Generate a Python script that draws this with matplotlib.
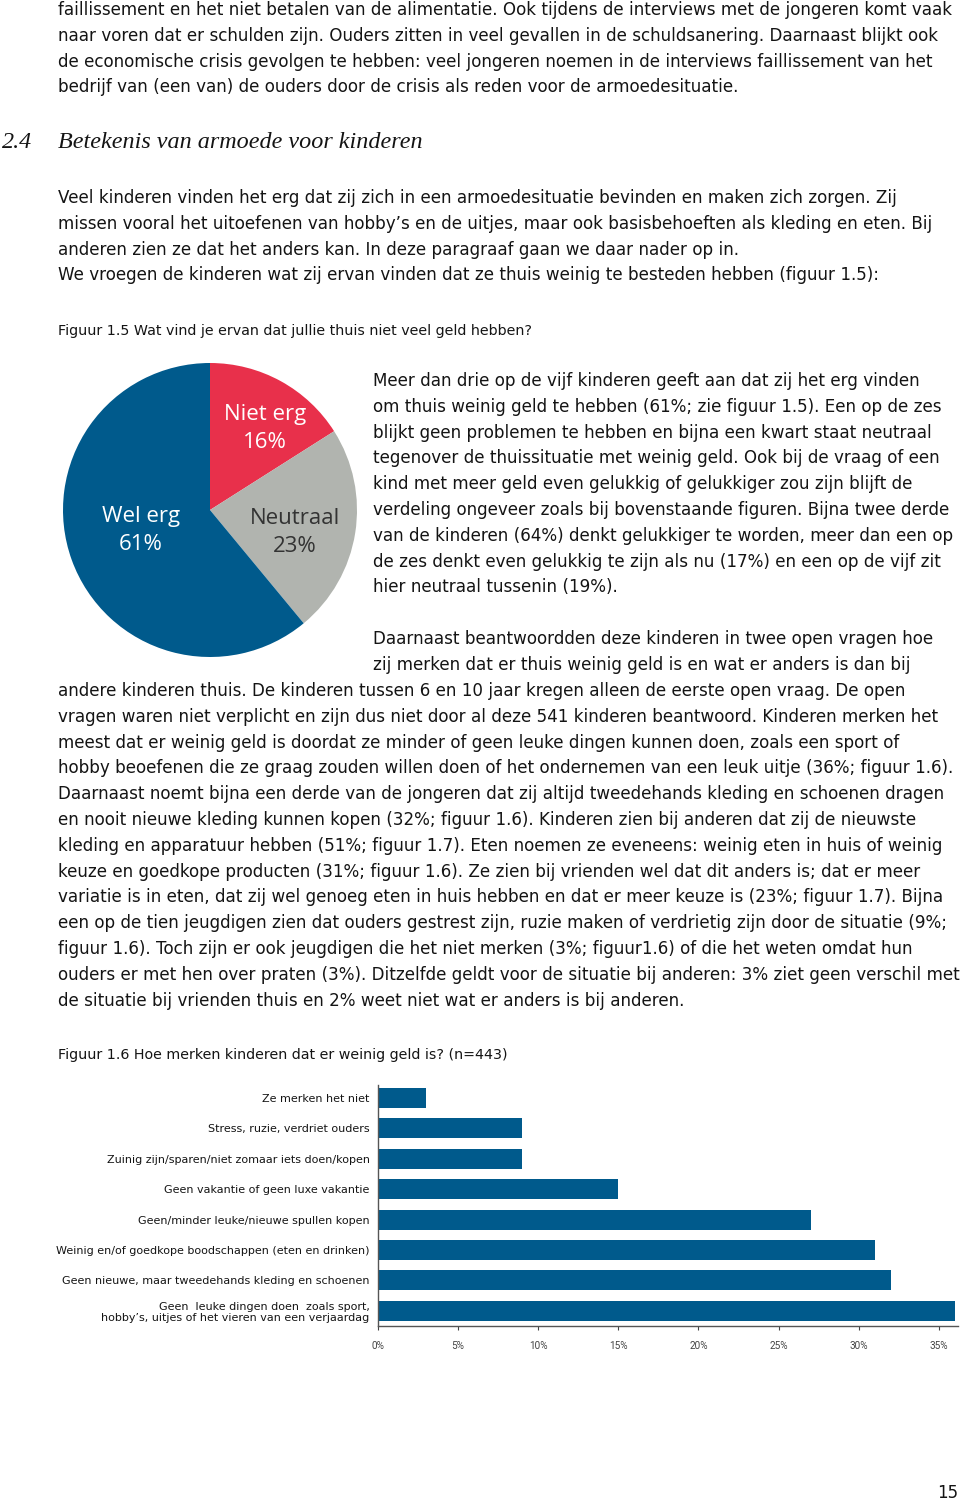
import matplotlib
matplotlib.use("Agg")
import matplotlib.pyplot as plt
import numpy as np

# --- data -------------------------------------------------------------
pie_labels = ["Niet erg", "Neutraal", "Wel erg"]
pie_values = [16, 23, 61]

bar_categories = [
    "Ze merken het niet",
    "Stress, ruzie, verdriet ouders",
    "Zuinig zijn/sparen/niet zomaar iets doen/kopen",
    "Geen vakantie of geen luxe vakantie",
    "Geen/minder leuke/nieuwe spullen kopen",
    "Weinig en/of goedkope boodschappen (eten en drinken)",
    "Geen nieuwe, maar tweedehands kleding en schoenen",
    "Geen  leuke dingen doen  zoals sport,\nhobby\u2019s, uitjes of het vieren van een verjaardag",
]
bar_values = [3, 9, 9, 15, 27, 31, 32, 36]
x_ticks = [0, 5, 10, 15, 20, 25, 30, 35]

intro_lines = [
    "faillissement en het niet betalen van de alimentatie. Ook tijdens de interviews met de jongeren komt vaak",
    "naar voren dat er schulden zijn. Ouders zitten in veel gevallen in de schuldsanering. Daarnaast blijkt ook",
    "de economische crisis gevolgen te hebben: veel jongeren noemen in de interviews faillissement van het",
    "bedrijf van (een van) de ouders door de crisis als reden voor de armoedesituatie.",
]
para_lines = [
    "Veel kinderen vinden het erg dat zij zich in een armoedesituatie bevinden en maken zich zorgen. Zij",
    "missen vooral het uitoefenen van hobby\u2019s en de uitjes, maar ook basisbehoeften als kleding en eten. Bij",
    "anderen zien ze dat het anders kan. In deze paragraaf gaan we daar nader op in.",
    "We vroegen de kinderen wat zij ervan vinden dat ze thuis weinig te besteden hebben (figuur 1.5):",
]
side_lines = [
    "Meer dan drie op de vijf kinderen geeft aan dat zij het erg vinden",
    "om thuis weinig geld te hebben (61%; zie figuur 1.5). Een op de zes",
    "blijkt geen problemen te hebben en bijna een kwart staat neutraal",
    "tegenover de thuissituatie met weinig geld. Ook bij de vraag of een",
    "kind met meer geld even gelukkig of gelukkiger zou zijn blijft de",
    "verdeling ongeveer zoals bij bovenstaande figuren. Bijna twee derde",
    "van de kinderen (64%) denkt gelukkiger te worden, meer dan een op",
    "de zes denkt even gelukkig te zijn als nu (17%) en een op de vijf zit",
    "hier neutraal tussenin (19%).",
]
open_lines_indented = [
    "Daarnaast beantwoordden deze kinderen in twee open vragen hoe",
    "zij merken dat er thuis weinig geld is en wat er anders is dan bij",
]
open_lines = [
    "andere kinderen thuis. De kinderen tussen 6 en 10 jaar kregen alleen de eerste open vraag. De open",
    "vragen waren niet verplicht en zijn dus niet door al deze 541 kinderen beantwoord. Kinderen merken het",
    "meest dat er weinig geld is doordat ze minder of geen leuke dingen kunnen doen, zoals een sport of",
    "hobby beoefenen die ze graag zouden willen doen of het ondernemen van een leuk uitje (36%; figuur 1.6).",
    "Daarnaast noemt bijna een derde van de jongeren dat zij altijd tweedehands kleding en schoenen dragen",
    "en nooit nieuwe kleding kunnen kopen (32%; figuur 1.6). Kinderen zien bij anderen dat zij de nieuwste",
    "kleding en apparatuur hebben (51%; figuur 1.7). Eten noemen ze eveneens: weinig eten in huis of weinig",
    "keuze en goedkope producten (31%; figuur 1.6). Ze zien bij vrienden wel dat dit anders is; dat er meer",
    "variatie is in eten, dat zij wel genoeg eten in huis hebben en dat er meer keuze is (23%; figuur 1.7). Bijna",
    "een op de tien jeugdigen zien dat ouders gestrest zijn, ruzie maken of verdrietig zijn door de situatie (9%;",
    "figuur 1.6). Toch zijn er ook jeugdigen die het niet merken (3%; figuur1.6) of die het weten omdat hun",
    "ouders er met hen over praten (3%). Ditzelfde geldt voor de situatie bij anderen: 3% ziet geen verschil met",
    "de situatie bij vrienden thuis en 2% weet niet wat er anders is bij anderen.",
]

BLUE = "#005a8c"
RED = "#e8304b"
GREY = "#b1b4af"
INK = "#141414"
BODY = "DejaVu Sans"
W, H = 960, 1501

fig = plt.figure(figsize=(W / 100, H / 100), dpi=100)


def put(x, y, s, size=12.1, family=BODY, **kw):
    # x, y in pixels from top-left of the page
    fig.text(x / W, 1 - y / H, s, fontsize=size, family=family,
             va="center", color=kw.pop("color", INK), **kw)


def lines(x, y0, rows, step=25.8, **kw):
    for i, s in enumerate(rows):
        put(x, y0 + i * step, s, **kw)


lines(58, 10, intro_lines)
put(2, 143, "2.4", size=17.4, family="Liberation Serif", style="italic")
put(58, 143, "Betekenis van armoede voor kinderen", size=17.4,
    family="Liberation Serif", style="italic")
lines(58, 198, para_lines)
put(58, 331, "Figuur 1.5 Wat vind je ervan dat jullie thuis niet veel geld hebben?", size=10.3)
lines(373, 381, side_lines)
lines(373, 639, open_lines_indented)
lines(58, 691, open_lines)
put(58, 1055, "Figuur 1.6 Hoe merken kinderen dat er weinig geld is? (n=443)", size=10.3)
put(958, 1493, "15", size=12, ha="right")

# --- pie --------------------------------------------------------------
cx, cy, r = 210, 510, 147
pax = fig.add_axes([(cx - r) / W, 1 - (cy + r) / H, 2 * r / W, 2 * r / H])
wedges, _ = pax.pie(pie_values, colors=[RED, GREY, BLUE], startangle=90,
                    counterclock=False, radius=1,
                    wedgeprops=dict(linewidth=0))
pax.set_xlim(-1, 1)
pax.set_ylim(-1, 1)
pax.set_aspect("equal")
pax.axis("off")
label_r = [0.67, 0.6, 0.49]
label_shift = [-5, -6, -3]
label_c = ["white", "#333333", "white"]
for w, lab, val, rr, sh, col in zip(wedges, pie_labels, pie_values,
                                    label_r, label_shift, label_c):
    ang = np.deg2rad((w.theta1 + w.theta2) / 2 + sh)
    pax.text(rr * np.cos(ang), rr * np.sin(ang), f"{lab}\n{val}%",
             ha="center", va="center", color=col, fontsize=16,
             family="Open Sans", linespacing=1.45)

# --- bars -------------------------------------------------------------
bax = fig.add_axes([378 / W, 1 - 1326 / H, 580 / W, 241 / H])
ypos = np.arange(len(bar_categories))
bax.barh(ypos, bar_values, height=0.66, color=BLUE)
bax.set_ylim(len(bar_categories) - 0.5, -0.43)
bax.set_xlim(0, 36.2)
bax.set_yticks(ypos)
bax.set_yticklabels(bar_categories, fontsize=8.0, family=BODY, color=INK,
                    linespacing=1.1)
bax.set_xticks(x_ticks)
bax.set_xticklabels([f"{t}%" for t in x_ticks], fontsize=7.2, family="Roboto",
                    color="#444444")
bax.tick_params(axis="y", length=0, pad=6)
bax.tick_params(axis="x", length=3, width=0.8, pad=8, colors="#444444")
for side in ["top", "right"]:
    bax.spines[side].set_visible(False)
for side in ["left", "bottom"]:
    bax.spines[side].set_color("#555555")
    bax.spines[side].set_linewidth(1.0)

fig.savefig("out.png", dpi=100, facecolor="white")
